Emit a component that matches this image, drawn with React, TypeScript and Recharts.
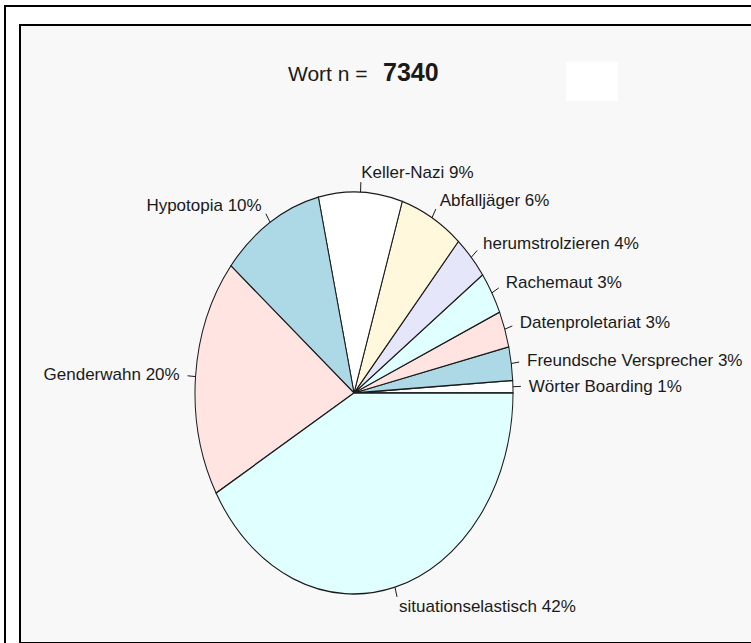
import React from "react";
import { PieChart, Pie, Cell } from "recharts";

// ---- data ----
const categories = [
  "Wörter Boarding",
  "Freundsche Versprecher",
  "Datenproletariat",
  "Rachemaut",
  "herumstrolzieren",
  "Abfalljäger",
  "Keller-Nazi",
  "Hypotopia",
  "Genderwahn",
  "situationselastisch",
];
const wordCounts = [73, 198, 213, 250, 264, 477, 624, 771, 1409, 3061];
const labelTexts = [
  "Wörter Boarding 1%",
  "Freundsche Versprecher 3%",
  "Datenproletariat 3%",
  "Rachemaut 3%",
  "herumstrolzieren 4%",
  "Abfalljäger 6%",
  "Keller-Nazi 9%",
  "Hypotopia 10%",
  "Genderwahn 20%",
  "situationselastisch 42%",
];
const sliceColors = [
  "#ffffff",
  "#add8e6",
  "#ffe4e1",
  "#e0ffff",
  "#e6e6fa",
  "#fff8dc",
  "#ffffff",
  "#add8e6",
  "#ffe4e1",
  "#e0ffff",
];
const titleText = "Wort n =";
const titleNumber = "7340";

const data = categories.map((name, i) => ({ name, value: wordCounts[i] }));

// ---- layout ----
const W = 751;
const H = 643;
const CX = 354;
const CY = 393;
const RX = 159;
const RY = 201;
const K = RY / RX;
const FONT = "'Liberation Sans', Arial, Helvetica, sans-serif";
const INK = "#1a1a1a";

const renderLabel = (props: any) => {
  const { cx, cy, midAngle, outerRadius, index } = props;
  const a = (midAngle * Math.PI) / 180;
  const c = Math.cos(a);
  const s = Math.sin(a);
  const rx = outerRadius;
  const ry = outerRadius * K;
  const x0 = cx + rx * c;
  const y0 = cy - ry * s;
  const x1 = cx + 1.05 * rx * c;
  const y1 = cy - 1.05 * ry * s;
  const xt = cx + 1.1 * rx * c;
  const yt = cy - 1.1 * ry * s;
  return (
    <g key={`lbl-${index}`}>
      <line x1={x0} y1={y0} x2={x1} y2={y1} stroke={INK} strokeWidth={1} />
      <text
        x={xt}
        y={yt}
        textAnchor={c < 0 ? "end" : "start"}
        dominantBaseline="central"
        fontFamily={FONT}
        fontSize={17}
        fill={INK}
      >
        {labelTexts[index]}
      </text>
    </g>
  );
};

export default function App() {
  return (
    <div
      style={{
        position: "absolute",
        left: 0,
        top: 0,
        width: W,
        height: H,
        background: "#ffffff",
        overflow: "hidden",
      }}
    >
      {/* outer frame */}
      <div style={{ position: "absolute", left: 4, top: 5, width: 2, height: H - 5, background: "#000" }} />
      <div style={{ position: "absolute", left: 4, top: 5, width: W - 4, height: 2, background: "#000" }} />
      {/* inner frame */}
      <div
        style={{
          position: "absolute",
          left: 19,
          top: 24,
          width: W - 19 + 10,
          height: H - 24 - 3,
          background: "#f8f8f8",
          borderLeft: "2px solid #000",
          borderTop: "2px solid #000",
          borderBottom: "3px solid #000",
          boxSizing: "content-box",
        }}
      />
      {/* title + white box */}
      <svg style={{ position: "absolute", left: 0, top: 0 }} width={W} height={H}>
        <rect x={566} y={62} width={52} height={39} fill="#ffffff" />
        <text x={288} y={81} fontFamily={FONT} fontSize={21} fill={INK}>
          {titleText}
        </text>
        <text x={383} y={81} fontFamily={FONT} fontSize={25} fontWeight="bold" fill={INK}>
          {titleNumber}
        </text>
      </svg>
      {/* sectors, stretched vertically into an ellipse */}
      <div
        style={{
          position: "absolute",
          left: 0,
          top: 0,
          width: W,
          height: H,
          transform: `scaleY(${K})`,
          transformOrigin: `${CX}px ${CY}px`,
        }}
      >
        <PieChart width={W} height={H} margin={{ top: 0, right: 0, bottom: 0, left: 0 }}>
          <Pie
            data={data}
            dataKey="value"
            cx={CX}
            cy={CY}
            innerRadius={0}
            outerRadius={RX}
            startAngle={0}
            endAngle={360}
            stroke={INK}
            strokeWidth={1}
            isAnimationActive={false}
            labelLine={false}
            label={false}
          >
            {data.map((d, i) => (
              <Cell key={d.name} fill={sliceColors[i]} />
            ))}
          </Pie>
        </PieChart>
      </div>
      {/* labels layer */}
      <div style={{ position: "absolute", left: 0, top: 0, width: W, height: H }}>
        <PieChart width={W} height={H} margin={{ top: 0, right: 0, bottom: 0, left: 0 }}>
          <Pie
            data={data}
            dataKey="value"
            cx={CX}
            cy={CY}
            innerRadius={0}
            outerRadius={RX}
            startAngle={0}
            endAngle={360}
            fill="none"
            stroke="none"
            isAnimationActive={false}
            labelLine={false}
            label={renderLabel}
          >
            {data.map((d) => (
              <Cell key={d.name} fill="none" stroke="none" />
            ))}
          </Pie>
        </PieChart>
      </div>
    </div>
  );
}
